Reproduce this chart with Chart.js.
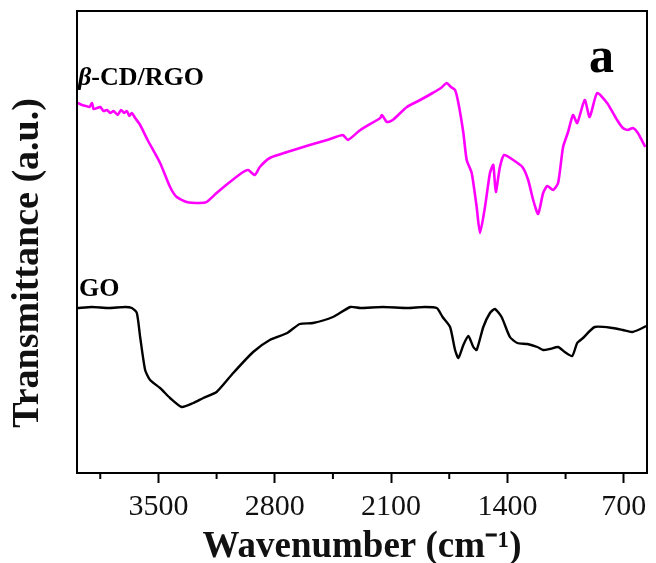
<!DOCTYPE html>
<html>
<head>
<meta charset="utf-8">
<script src="https://cdn.jsdelivr.net/npm/chart.js@4.4.0/dist/chart.umd.min.js"></script>
<style>
  html, body { margin: 0; padding: 0; background: #fff; }
  #wrap { width: 656px; height: 563px; }
</style>
</head>
<body>
<div id="wrap"><canvas id="ftir" width="656" height="563"></canvas></div>
<script>
// wavenumber (cm-1) and transmittance (a.u., offset curves)
const rgoWave = [3985, 3960, 3935, 3915, 3900, 3890, 3870, 3850, 3830, 3810, 3790, 3770, 3745, 3725, 3705, 3690, 3675, 3660,
  3640, 3610, 3565, 3490, 3430, 3390, 3330, 3250, 3210, 3150, 3070, 2990, 2960, 2920, 2890, 2830, 2725, 2590, 2485, 2390,
  2360, 2285, 2165, 2155, 2125, 2090, 2005, 1925, 1850, 1800, 1765, 1740, 1715, 1695, 1665, 1645, 1615, 1585, 1565, 1535,
  1505, 1485, 1470, 1445, 1420, 1365, 1310, 1275, 1245, 1215, 1185, 1160, 1125, 1095, 1065, 1035, 1005, 980, 935, 905,
  860, 800, 740, 705, 675, 645, 615, 570];
const rgoT = [370, 368, 367, 366, 370, 364, 365, 366, 362, 363, 360, 362, 358, 363, 360, 362, 357, 360,
  355, 348, 333, 310, 286, 276, 271, 270, 271, 280, 291, 301, 303, 298, 306, 315, 321, 328, 333, 338,
  333, 343, 355, 358, 351, 353, 366, 373, 380, 385, 390, 386, 383, 370, 340, 313, 300, 266, 240, 266,
  300, 308, 281, 306, 318, 313, 306, 293, 273, 259, 280, 287, 283, 290, 326, 341, 358, 350, 373, 356,
  380, 370, 353, 345, 343, 345, 340, 326];

const goWave = [3985, 3900, 3800, 3700, 3660, 3630, 3610, 3580, 3550, 3490, 3430, 3360, 3290, 3230, 3150, 3050, 2930,
  2830, 2725, 2650, 2570, 2450, 2345, 2285, 2150, 2000, 1900, 1825, 1790, 1745, 1715, 1695, 1665, 1635, 1605, 1585,
  1545, 1505, 1475, 1435, 1385, 1340, 1280, 1220, 1185, 1145, 1095, 1055, 1010, 980, 945, 875, 765, 705, 650, 600, 565];
const goT = [165, 166, 165, 166, 165, 160, 136, 103, 93, 85, 75, 66, 70, 75, 81, 100, 121,
  133, 140, 149, 150, 156, 166, 165, 166, 165, 166, 165, 156, 146, 123, 115, 128, 137, 126, 123,
  146, 160, 164, 156, 136, 130, 129, 126, 123, 124, 126, 121, 117, 130, 135, 146, 145, 143, 141, 144, 147];

const majorTicks = [3500, 2800, 2100, 1400, 700];
const minorTicks = [3850, 3150, 2450, 1750, 1050];
const seriesNames = ['β-CD/RGO', 'GO'];
const yTitle = 'Transmittance (a.u.)';

const serif = "'Liberation Serif', 'Times New Roman', serif";

const toPoints = (xs, ys) => xs.map((x, i) => ({ x: x, y: ys[i] }));

const framePlugin = {
  id: 'frame',
  afterDraw(chart) {
    const { ctx, chartArea: a, scales } = chart;
    ctx.save();
    ctx.strokeStyle = '#000';
    ctx.lineWidth = 2;
    ctx.strokeRect(a.left, a.top, a.right - a.left, a.bottom - a.top);
    // minor ticks, shorter than the major ones
    minorTicks.forEach(v => {
      const px = scales.x.getPixelForValue(v);
      ctx.beginPath();
      ctx.moveTo(px, a.bottom);
      ctx.lineTo(px, a.bottom + 6);
      ctx.stroke();
    });
    ctx.fillStyle = '#000';
    ctx.textBaseline = 'alphabetic';
    // curve names
    ctx.font = "italic bold 26px " + serif;
    ctx.fillText('β', a.left + 1, 85);
    const bw = ctx.measureText('β').width;
    ctx.font = "bold 26px " + serif;
    ctx.fillText(seriesNames[0].slice(1), a.left + 1 + bw, 85);
    ctx.fillText(seriesNames[1], a.left + 2, 296);
    // panel letter
    ctx.font = "bold 50px " + serif;
    ctx.fillText('a', 589, 72);
    // y title sits a bit below the middle of the frame in the original
    ctx.translate(28, 263);
    ctx.rotate(-Math.PI / 2);
    ctx.font = "bold 38px " + serif;
    ctx.fillStyle = '#111';
    ctx.textAlign = 'center';
    ctx.textBaseline = 'middle';
    ctx.fillText(yTitle, 0, 0);
    ctx.restore();
  }
};

new Chart(document.getElementById('ftir'), {
  type: 'line',
  data: {
    datasets: [
      {
        label: seriesNames[0],
        data: toPoints(rgoWave, rgoT),
        borderColor: '#ff00ff',
        borderWidth: 2.6,
        pointRadius: 0,
        tension: 0.2
      },
      {
        label: seriesNames[1],
        data: toPoints(goWave, goT),
        borderColor: '#000000',
        borderWidth: 2.4,
        pointRadius: 0,
        tension: 0.2
      }
    ]
  },
  options: {
    responsive: false,
    animation: false,
    devicePixelRatio: 1,
    layout: { padding: { top: 11, right: 9, left: 0, bottom: 0 } },
    plugins: {
      legend: { display: false },
      tooltip: { enabled: false }
    },
    scales: {
      x: {
        type: 'linear',
        reverse: true,
        min: 560,
        max: 3990,
        afterBuildTicks: axis => { axis.ticks = majorTicks.map(v => ({ value: v })); },
        afterFit: s => { s.height = 90; },
        grid: { drawOnChartArea: false, drawTicks: true, tickLength: 10, tickWidth: 2, tickColor: '#000' },
        border: { display: true, color: '#000', width: 2 },
        ticks: {
          padding: 6,
          maxRotation: 0,
          color: '#111',
          font: { family: serif, size: 30 },
          callback: v => String(v)
        },
        title: {
          display: true,
          text: 'Wavenumber (cm⁻¹)',
          color: '#111',
          padding: { bottom: -3 },
          font: { family: serif, size: 37, weight: 'bold', lineHeight: 1 }
        }
      },
      y: {
        min: 0,
        max: 462,
        afterFit: s => { s.width = 77; },
        grid: { display: false },
        border: { display: true, color: '#000', width: 2 },
        ticks: { display: false },
        title: { display: false }
      }
    }
  },
  plugins: [framePlugin]
});
</script>
</body>
</html>
